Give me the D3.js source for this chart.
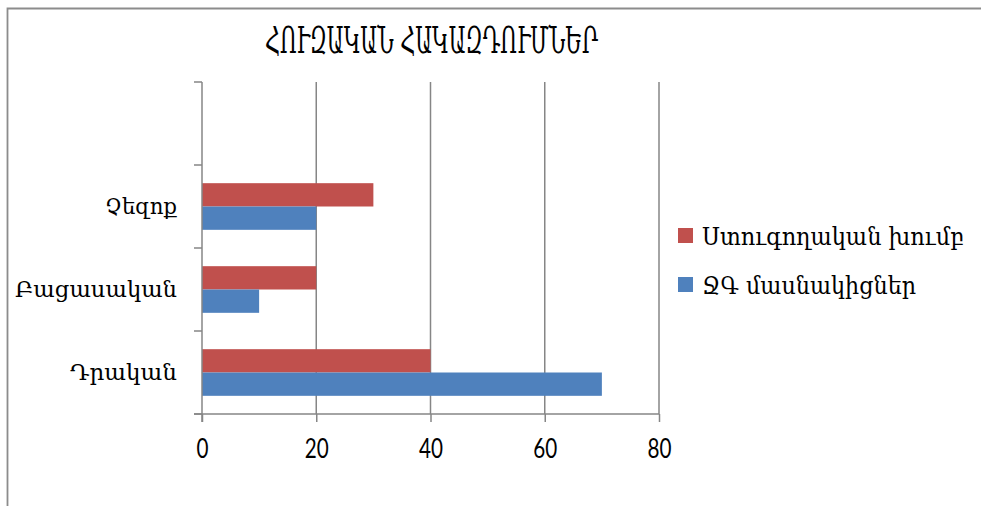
<!DOCTYPE html>
<html>
<head>
<meta charset="utf-8">
<script src="https://cdn.jsdelivr.net/npm/d3@7"></script>
<style>
  html, body { margin: 0; padding: 0; background: #fff; }
  svg { display: block; }
</style>
</head>
<body>
<svg id="chart" width="981" height="506"></svg>
<script>
// Categories, bottom to top; the top slot is left empty.
const categories = ["Դրական", "Բացասական", "Չեզոք", ""];
const seriesNames = ["Ստուգողական խումբ", "ՋԳ մասնակիցներ"];
const controlValues = [40, 20, 30, null];
const participantValues = [70, 10, 20, null];
const xTicks = [0, 20, 40, 60, 80];
const titleText = "ՀՈՒԶԱԿԱՆ ՀԱԿԱԶԴՈՒՄՆԵՐ";
const colors = ["#C0504D", "#4F81BD"];

const svg = d3.select("#chart");
const gridColor = "#868686";
const armFont = "'DejaVu Serif', 'Noto Serif', serif";
const numFont = "Lato, 'Open Sans', sans-serif";

// outer frame (top and left edges)
svg.append("path")
  .attr("d", "M7.5,506 L7.5,8.5 L981,8.5")
  .attr("fill", "none").attr("stroke", "#8c8c8c").attr("stroke-width", 1.8);

const plot = { left: 202, right: 659, top: 82, bottom: 414 };

const x = d3.scaleLinear().domain([0, 80]).range([plot.left, plot.right]);
const y0 = d3.scaleBand().domain(categories.slice().reverse()).range([plot.top, plot.bottom]).padding(0);
const y1 = d3.scaleBand().domain(seriesNames).range([0, y0.bandwidth()]).paddingInner(0).paddingOuter(0.78);

// title
svg.append("text")
  .attr("x", 265).attr("y", 53)
  .attr("font-family", armFont).attr("font-size", 38)
  .attr("textLength", 333).attr("lengthAdjust", "spacingAndGlyphs")
  .attr("fill", "#000")
  .text(titleText);

// vertical gridlines
svg.append("g").selectAll("line").data(xTicks.slice(1)).join("line")
  .attr("x1", d => x(d)).attr("x2", d => x(d))
  .attr("y1", plot.top).attr("y2", plot.bottom)
  .attr("stroke", gridColor).attr("stroke-width", 1.5);

// bars
const rows = categories.map((c, i) => ({ cat: c, vals: [controlValues[i], participantValues[i]] }));
const g = svg.append("g");
rows.forEach(r => {
  r.vals.forEach((v, j) => {
    if (v == null) return;
    g.append("rect")
      .attr("x", x(0))
      .attr("y", y0(r.cat) + y1(seriesNames[j]))
      .attr("width", x(v) - x(0))
      .attr("height", y1.bandwidth())
      .attr("fill", colors[j]);
  });
});

// y axis line and category ticks
svg.append("line")
  .attr("x1", plot.left).attr("x2", plot.left)
  .attr("y1", plot.top).attr("y2", plot.bottom + 8)
  .attr("stroke", gridColor).attr("stroke-width", 1.5);
const bounds = y0.domain().map(c => y0(c)).concat([plot.bottom]);
svg.append("g").selectAll("line").data(bounds).join("line")
  .attr("x1", plot.left - 8).attr("x2", plot.left)
  .attr("y1", d => d).attr("y2", d => d)
  .attr("stroke", gridColor).attr("stroke-width", 1.5);

// x axis
const xAxis = svg.append("g")
  .attr("transform", `translate(0,${plot.bottom})`)
  .call(d3.axisBottom(x).tickValues(xTicks).tickSize(8).tickSizeOuter(0).tickPadding(0));
xAxis.select(".domain").remove();
xAxis.selectAll(".tick line").attr("stroke", gridColor).attr("stroke-width", 1.5);
xAxis.selectAll(".tick text").remove();
xAxis.selectAll(".tick").append("text")
  .attr("y", 44).attr("text-anchor", "middle")
  .attr("font-family", numFont).attr("font-size", 27).attr("fill", "#000")
  .attr("textLength", d => String(d).length * 12)
  .attr("lengthAdjust", "spacingAndGlyphs")
  .text(d => d);
svg.append("line")
  .attr("x1", plot.left - 8).attr("x2", plot.right)
  .attr("y1", plot.bottom).attr("y2", plot.bottom)
  .attr("stroke", gridColor).attr("stroke-width", 1.5);

// category labels
const labelWidths = { "Դրական": 107, "Բացասական": 162, "Չեզոք": 72 };
svg.append("g").selectAll("text").data(categories.filter(c => c)).join("text")
  .attr("x", 177).attr("y", d => y0(d) + y0.bandwidth() / 2 + 7.5)
  .attr("text-anchor", "end")
  .attr("font-family", armFont).attr("font-size", 22).attr("fill", "#000")
  .attr("textLength", d => labelWidths[d]).attr("lengthAdjust", "spacingAndGlyphs")
  .text(d => d);

// legend
const legendY = [235.5, 284.5];
const legendWidths = [262, 214];
const lg = svg.append("g");
seriesNames.forEach((s, i) => {
  lg.append("rect")
    .attr("x", 678).attr("y", legendY[i] - 7.5)
    .attr("width", 15).attr("height", 15)
    .attr("fill", colors[i]);
  lg.append("text")
    .attr("x", 702).attr("y", legendY[i] + 9)
    .attr("font-family", armFont).attr("font-size", 24).attr("fill", "#000")
    .attr("textLength", legendWidths[i]).attr("lengthAdjust", "spacingAndGlyphs")
    .text(s);
});
</script>
</body>
</html>
